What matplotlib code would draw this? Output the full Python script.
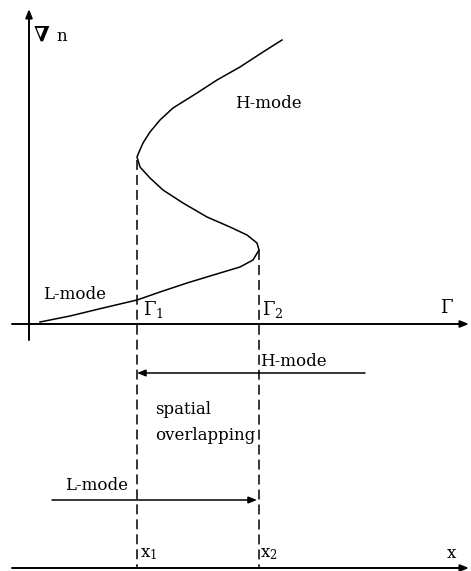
"""Schematic of the L-H transition S-curve and the spatial overlap of modes."""

import matplotlib

matplotlib.use("Agg")
import matplotlib.pyplot as plt

plt.rcParams["mathtext.fontset"] = "dejavuserif"

# S-curve: flux (Gamma) vs density gradient
gamma_curve = [0.11, 0.41, 0.74, 1.08, 1.31, 1.58, 1.91, 2.11, 2.24, 2.30,
               2.28, 2.18, 2.01, 1.78, 1.54, 1.34, 1.21, 1.11, 1.08, 1.10,
               1.14, 1.21, 1.31, 1.44, 1.68, 1.88, 2.11, 2.34, 2.53]
gradn_curve = [0.02, 0.08, 0.16, 0.24, 0.32, 0.41, 0.51, 0.57, 0.64, 0.74,
               0.81, 0.89, 0.97, 1.07, 1.21, 1.34, 1.46, 1.57, 1.67, 1.72,
               1.81, 1.92, 2.04, 2.16, 2.31, 2.44, 2.57, 2.72, 2.84]

# transition thresholds and fold heights
gamma_1, gamma_2 = 1.08, 2.30
fold_1, fold_2 = 1.64, 0.74

# lower (spatial) panel
x_axis_level = -2.44
h_arrow = (3.36, 1.08, -0.49)   # start, end, level
l_arrow = (0.23, 2.28, -1.76)

FONT = "DejaVu Serif"
FS = 12

fig = plt.figure(figsize=(4.71, 5.71), dpi=100)
ax = fig.add_axes([0, 0, 1, 1])
ax.set_xlim(-0.29, 4.42)
ax.set_ylim(-2.47, 3.24)
ax.axis("off")

arrow_kw = dict(arrowstyle="-|>,head_length=0.5,head_width=0.2", color="black", lw=1.4,
                shrinkA=0, shrinkB=0)

# axes of the upper diagram
ax.annotate("", xy=(0, 3.15), xytext=(0, -0.16), arrowprops=arrow_kw)
ax.annotate("", xy=(4.40, 0), xytext=(-0.17, 0), arrowprops=arrow_kw)
# spatial axis at the bottom
ax.annotate("", xy=(4.40, x_axis_level), xytext=(-0.17, x_axis_level), arrowprops=arrow_kw)

ax.plot(gamma_curve, gradn_curve, color="black", lw=1.1, solid_joinstyle="round")

for g, top in [(gamma_1, fold_1), (gamma_2, fold_2)]:
    ax.plot([g, g], [top, x_axis_level], color="black", lw=1.1, dashes=(6.5, 3.3))

thin_arrow = dict(arrow_kw, lw=1.1)
ax.annotate("", xy=(h_arrow[1], h_arrow[2]), xytext=(h_arrow[0], h_arrow[2]), arrowprops=thin_arrow)
ax.annotate("", xy=(l_arrow[1], l_arrow[2]), xytext=(l_arrow[0], l_arrow[2]), arrowprops=thin_arrow)

txt = dict(family=FONT, fontsize=FS, va="center", ha="left")
ax.text(0.05, 2.89, "∇", **dict(txt, fontsize=15, weight="bold"))
ax.text(0.27, 2.88, "n", **txt)
ax.text(2.06, 2.20, "H-mode", **txt)
ax.text(0.14, 0.30, "L-mode", **txt)
ax.text(1.14, 0.15, r"$\Gamma_1$", **dict(txt, fontsize=13))
ax.text(2.33, 0.15, r"$\Gamma_2$", **dict(txt, fontsize=13))
ax.text(4.11, 0.16, r"$\Gamma$", **dict(txt, fontsize=13))
ax.text(2.31, -0.37, "H-mode", **txt)
ax.text(1.26, -0.86, "spatial", **txt)
ax.text(1.26, -1.11, "overlapping", **txt)
ax.text(0.36, -1.62, "L-mode", **txt)
ax.text(1.11, -2.30, r"x$_1$", **txt)
ax.text(2.31, -2.30, r"x$_2$", **txt)
ax.text(4.18, -2.30, "x", **txt)

fig.savefig("out.png", dpi=100)
